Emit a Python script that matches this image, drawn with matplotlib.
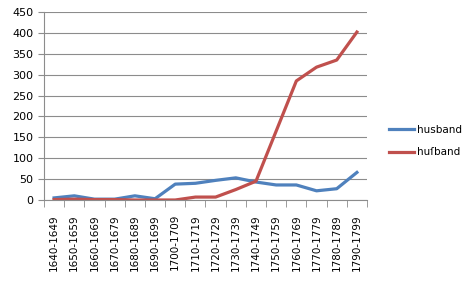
import numpy as np
import matplotlib
matplotlib.use('Agg')
import matplotlib.pyplot as plt

# Data
decades = ['1640-1649', '1650-1659', '1660-1669', '1670-1679', '1680-1689',
           '1690-1699', '1700-1709', '1710-1719', '1720-1729', '1730-1739',
           '1740-1749', '1750-1759', '1760-1769', '1770-1779', '1780-1789',
           '1790-1799']
husband = [5, 10, 2, 2, 10, 3, 38, 40, 47, 53, 43, 36, 36, 22, 27, 66]
husband_long_s = [1, 2, 1, 1, 0, 0, 0, 7, 7, 25, 45, 165, 285, 318, 335, 402]

fig = plt.figure(figsize=(4.72, 2.83), dpi=100)
ax = fig.add_axes([44 / 472, 1 - 200 / 283, (367 - 44) / 472, (200 - 12) / 283])

x = np.arange(len(decades))
ax.plot(x, husband, color='#4F81BD', lw=2.3, label='husband', solid_joinstyle='round')
ax.plot(x, husband_long_s, color='#C0504D', lw=2.3, label='hu\u017fband', solid_joinstyle='round')

ax.set_xlim(-0.5, len(decades) - 0.5)
ax.set_ylim(0, 450)
ax.set_yticks(range(0, 451, 50))
ax.yaxis.grid(True, color='#8C8C8C', lw=0.8)
ax.set_axisbelow(True)

ax.set_xticks(x)
ax.set_xticklabels(decades, rotation=90, fontsize=7.5)
ax.set_xticks(np.arange(-0.5, len(decades)), minor=True)
ax.tick_params(axis='x', which='major', length=0, pad=10)
ax.tick_params(axis='x', which='minor', length=5, color='#8C8C8C')
ax.tick_params(axis='y', length=4, color='#8C8C8C', labelsize=8)

for s in ['top', 'right']:
    ax.spines[s].set_visible(False)
for s in ['left', 'bottom']:
    ax.spines[s].set_color('#8C8C8C')

fig.legend(loc='center left', bbox_to_anchor=(380 / 472, 1 - 141 / 283),
           frameon=False, fontsize=7.5, handlelength=2.4, labelspacing=1.2,
           handletextpad=0.3)

fig.savefig('out.png', dpi=100)
